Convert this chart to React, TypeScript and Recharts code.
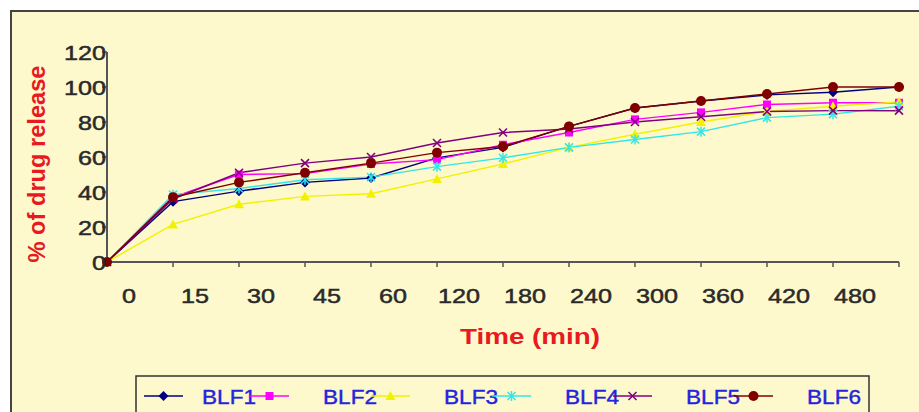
import React from 'react';
import { LineChart, Line, XAxis, YAxis, Legend } from 'recharts';

// sampling times as printed under the axis (last point carries no label)
const timeLabels = ['0', '15', '30', '45', '60', '120', '180', '240', '300', '360', '420', '480', ''];

// % of drug release per formulation
const blf1 = [0, 34.5, 40.5, 45.5, 48, 59.5, 65.5, 77.5, 88, 92, 95.5, 97, 100];
const blf2 = [0, 37, 50, 50.5, 56, 58.5, 67, 74, 81.5, 85.5, 90, 91, 91];
const blf3 = [0, 21.5, 33, 37.5, 39, 47.5, 56, 65.5, 73, 80, 86, 89, 91.5];
const blf4 = [0, 38.5, 42, 47, 48.5, 54.5, 59.5, 65.5, 70, 74.5, 82.5, 84.5, 89];
const blf5 = [0, 36, 51, 56.5, 60, 68, 74, 76, 80, 83, 86, 86.5, 86.5];
const blf6 = [0, 37, 45.5, 51, 56.5, 62.5, 66, 77.5, 88, 92, 96, 100, 100];

const yTicks = [0, 20, 40, 60, 80, 100, 120];

const seriesNames = ['BLF1', 'BLF2', 'BLF3', 'BLF4', 'BLF5', 'BLF6'];
const seriesValues = [blf1, blf2, blf3, blf4, blf5, blf6];

const seriesStyle: Record<string, { color: string; shape: string }> = {
    BLF1: { color: '#000080', shape: 'diamond' },
    BLF2: { color: '#ff00ff', shape: 'square' },
    BLF3: { color: '#f2f200', shape: 'triangle' },
    BLF4: { color: '#33e6e6', shape: 'star' },
    BLF5: { color: '#800080', shape: 'cross' },
    BLF6: { color: '#800000', shape: 'circle' },
};

const chartData = timeLabels.map((t, i) => {
    const row: Record<string, string | number> = { time: t };
    seriesNames.forEach((name, s) => { row[name] = seriesValues[s][i]; });
    return row;
});

const FONT = '"Liberation Sans", Arial, sans-serif';
const STRETCH = 1.2; // the source picture is a little wider than tall

const Marker = ({ cx, cy, shape, color }: { cx: number; cy: number; shape: string; color: string }) => {
    switch (shape) {
        case 'diamond':
            return <polygon points={`${cx},${cy - 5} ${cx + 5},${cy} ${cx},${cy + 5} ${cx - 5},${cy}`} fill={color} />;
        case 'square':
            return <rect x={cx - 4} y={cy - 4} width={8} height={8} fill={color} />;
        case 'triangle':
            return <polygon points={`${cx},${cy - 5} ${cx + 5},${cy + 4} ${cx - 5},${cy + 4}`} fill={color} />;
        case 'star':
            return (
                <g stroke={color} strokeWidth={1.5}>
                    <line x1={cx - 4} y1={cy - 4} x2={cx + 4} y2={cy + 4} />
                    <line x1={cx - 4} y1={cy + 4} x2={cx + 4} y2={cy - 4} />
                    <line x1={cx} y1={cy - 5} x2={cx} y2={cy + 5} />
                </g>
            );
        case 'cross':
            return (
                <g stroke={color} strokeWidth={1.6}>
                    <line x1={cx - 4} y1={cy - 4} x2={cx + 4} y2={cy + 4} />
                    <line x1={cx - 4} y1={cy + 4} x2={cx + 4} y2={cy - 4} />
                </g>
            );
        default:
            return <circle cx={cx} cy={cy} r={5} fill={color} />;
    }
};

const XTick = (props: any) => {
    const { x, y, payload } = props;
    const label = String(payload.value);
    if (!label) return null;
    return (
        <text x={x + 22} y={y + 34} textAnchor="middle" fontSize={21} fill="#2a2a2a" stroke="#2a2a2a" strokeWidth={0.5}
            fontFamily={FONT} textLength={label.length * 0.556 * 21 * STRETCH} lengthAdjust="spacingAndGlyphs">
            {label}
        </text>
    );
};

const YTick = (props: any) => {
    const { x, y, payload } = props;
    const label = String(payload.value);
    return (
        <text x={x + 6} y={y} dy="0.36em" textAnchor="end" fontSize={21} fill="#2a2a2a" stroke="#2a2a2a" strokeWidth={0.5}
            fontFamily={FONT} textLength={label.length * 0.556 * 21 * STRETCH} lengthAdjust="spacingAndGlyphs">
            {label}
        </text>
    );
};

const YTitle = () => (
    <text x={45} y={164} transform="rotate(-90, 45, 164)" textAnchor="middle" fontSize={24} fontWeight="bold"
        fill="#e8191f" fontFamily={FONT} textLength={197} lengthAdjust="spacingAndGlyphs">
        % of drug release
    </text>
);

const XTitle = () => (
    <text x={530} y={344} textAnchor="middle" fontSize={22} fontWeight="bold" fill="#e8191f" fontFamily={FONT}
        textLength={140} lengthAdjust="spacingAndGlyphs">
        Time (min)
    </text>
);

const LegendBox = (props: any) => {
    const items = (props.payload || []).filter((p: any) => seriesStyle[p.value]);
    return (
        <svg width={919} height={412} style={{ position: 'absolute', left: 0, top: 0 }}>
            <rect x={136} y={376} width={733} height={60} fill="none" stroke="#333" strokeWidth={1.5} />
            {items.map((p: any, i: number) => {
                const st = seriesStyle[p.value];
                const textX = 202 + i * 121;
                const l0 = i === 0 ? 144 : textX - 73;
                const l1 = i === 0 ? 183 : textX - 34;
                return (
                    <g key={p.value}>
                        <line x1={l0} y1={396} x2={l1} y2={396} stroke={st.color} strokeWidth={1.5} />
                        <Marker cx={(l0 + l1) / 2} cy={396} shape={st.shape} color={st.color} />
                        <text x={textX} y={404} fontSize={21} fill="#2424dd" stroke="#2424dd" strokeWidth={0.4}
                            fontFamily={FONT} textLength={54} lengthAdjust="spacingAndGlyphs">
                            {p.value}
                        </text>
                    </g>
                );
            })}
        </svg>
    );
};

export default function App() {
    return (
        <div style={{ position: 'absolute', left: 0, top: 0, width: 919, height: 412, overflow: 'hidden', background: '#ffffff' }}>
            <div style={{
                position: 'absolute', left: 10, top: 10, width: 940, height: 440,
                borderTop: '2px solid #444', borderLeft: '2px solid #444', background: '#fdf9cd',
            }} />
            <div style={{ position: 'absolute', left: 0, top: 0 }}>
                <LineChart width={919} height={412} data={chartData} margin={{ top: 52, right: 20, left: 0, bottom: 110 }}>
                    <XAxis dataKey="time" type="category" scale="point" interval={0} height={40}
                        padding={{ left: 0, right: 0 }}
                        axisLine={{ stroke: '#555', strokeWidth: 2 }} tickLine={{ stroke: '#555', strokeWidth: 1.5 }}
                        tickSize={5} tick={<XTick />} label={<XTitle />} />
                    <YAxis type="number" domain={[0, 120]} ticks={yTicks} width={107} interval={0}
                        axisLine={{ stroke: '#555', strokeWidth: 2 }} tickLine={{ stroke: '#555', strokeWidth: 1.5 }}
                        tickSize={5} tick={<YTick />} label={<YTitle />} />
                    <Legend layout="horizontal" verticalAlign="middle" align="center"
                        wrapperStyle={{ left: 0, top: 0, width: 919, height: 412, pointerEvents: 'none' }}
                        content={<LegendBox />} />
                    {seriesNames.map((name) => {
                        const st = seriesStyle[name];
                        return (
                            <Line key={name} type="linear" dataKey={name} name={name} stroke={st.color} strokeWidth={1.5}
                                isAnimationActive={false} activeDot={false}
                                dot={(p: any) => (
                                    <g key={`${name}-${p.index}`}>
                                        <Marker cx={p.cx} cy={p.cy} shape={st.shape} color={st.color} />
                                    </g>
                                )} />
                        );
                    })}
                </LineChart>
            </div>
        </div>
    );
}
